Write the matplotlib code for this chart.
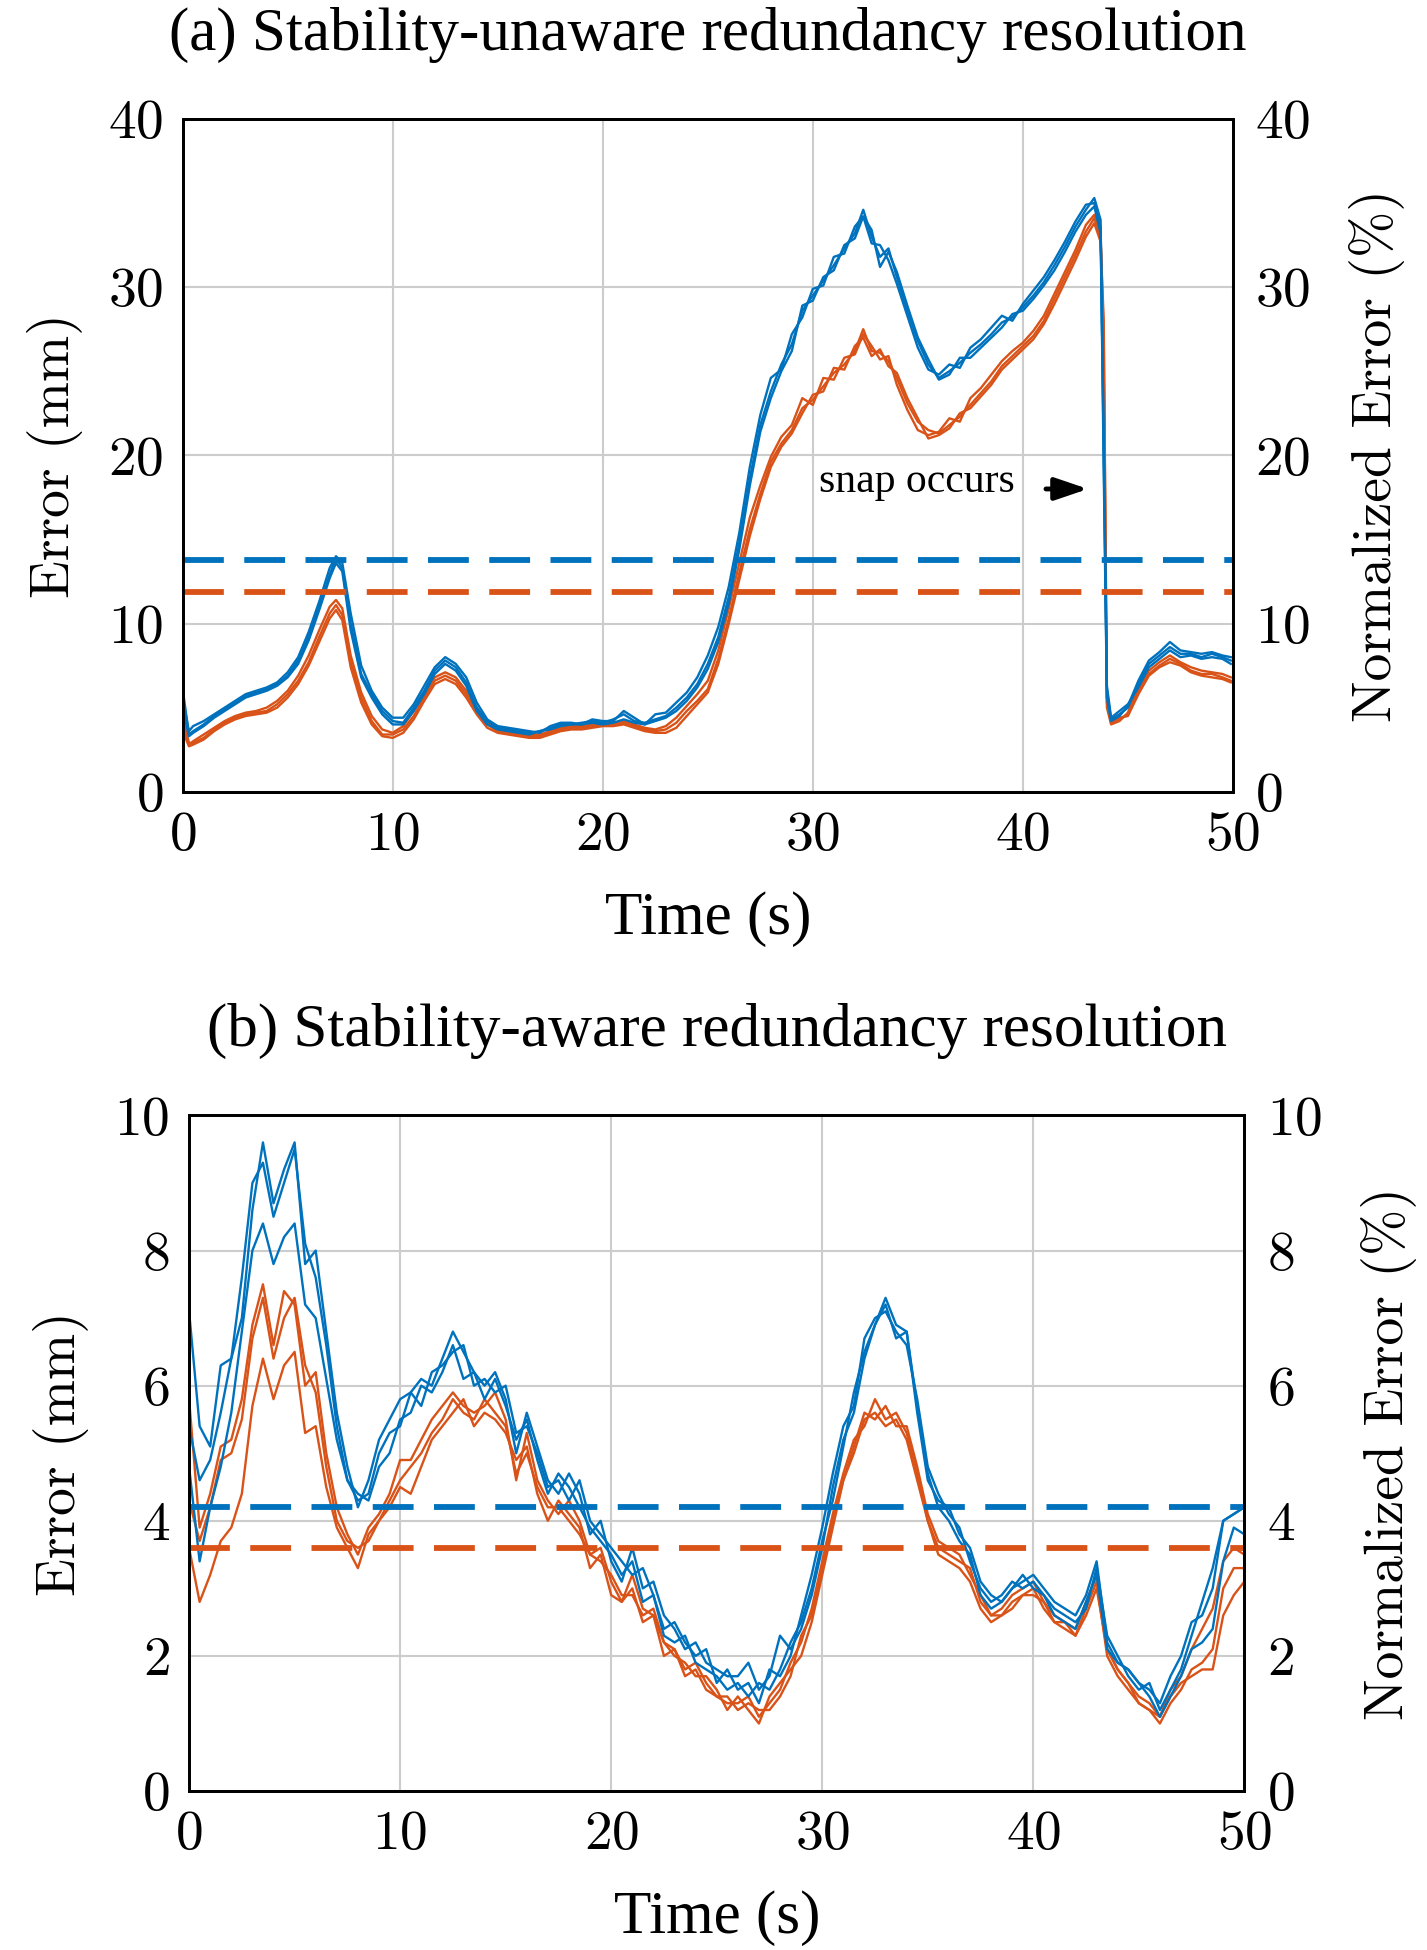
import numpy as np
import matplotlib.pyplot as plt

# Error traces for two redundancy resolution schemes

plt.rcParams['font.family'] = 'serif'
plt.rcParams['font.serif'] = ['cmr10', 'DejaVu Serif']
plt.rcParams['mathtext.fontset'] = 'cm'
plt.rcParams['axes.formatter.use_mathtext'] = True

BLUE = '#0072BD'
ORANGE = '#D95319'
TIMES = 'Liberation Serif'

# ---------------- (a) stability-unaware ----------------
top_t = [0, 0.3, 0.5, 1, 1.5, 2, 2.5, 3, 3.5, 4,
         4.5, 5, 5.5, 6, 6.5, 7, 7.3, 7.6, 8, 8.5,
         9, 9.5, 10, 10.5, 11, 11.5, 12, 12.5, 13, 13.5,
         14, 14.5, 15, 15.5, 16, 16.5, 17, 17.5, 18, 18.5,
         19, 19.5, 20, 20.5, 21, 21.5, 22, 22.5, 23, 23.5,
         24, 24.5, 25, 25.5, 26, 26.5, 27, 27.5, 28, 28.5,
         29, 29.5, 30, 30.5, 31, 31.5, 32, 32.4, 32.8, 33.2,
         33.6, 34, 34.5, 35, 35.5, 36, 36.5, 37, 37.5, 38,
         38.5, 39, 39.5, 40, 40.5, 41, 41.5, 42, 42.5, 43,
         43.4, 43.7, 43.85, 44.0, 44.2, 44.6, 45, 45.5, 46, 46.5,
         47, 47.5, 48, 48.5, 49, 49.5, 49.9]

top_blue1 = [6.1, 3.4, 3.6, 4.0, 4.5, 4.9, 5.3, 5.7, 5.9, 6.1,
             6.4, 6.9, 7.8, 9.2, 11.0, 12.9, 13.9, 13.3, 10.0, 7.0,
             5.8, 4.8, 4.2, 4.1, 5.0, 6.0, 7.2, 7.8, 7.4, 6.5,
             5.0, 4.2, 3.8, 3.7, 3.6, 3.5, 3.6, 3.8, 4.0, 4.0,
             4.1, 4.2, 4.1, 4.3, 4.6, 4.2, 4.1, 4.3, 4.5, 5.0,
             5.6, 6.4, 7.6, 9.2, 11.6, 14.8, 18.6, 21.8, 23.8, 25.4,
             26.6, 28.6, 29.5, 30.4, 31.3, 32.3, 33.2, 34.6, 33.0, 31.8,
             32.3, 30.6, 28.6, 26.8, 25.4, 24.6, 25.0, 25.5, 26.1, 26.6,
             27.2, 27.9, 28.2, 28.8, 29.5, 30.3, 31.3, 32.4, 33.6, 34.6,
             35.3, 34.0, 20.0, 6.0, 4.3, 4.6, 5.0, 6.4, 7.6, 8.1,
             8.6, 8.2, 8.2, 8.0, 8.2, 8.0, 7.8]
top_blue2 = [5.5, 3.6, 3.9, 4.2, 4.6, 5.0, 5.4, 5.8, 6.0, 6.2,
             6.5, 7.1, 8.0, 9.5, 11.3, 13.3, 14.0, 13.6, 10.6, 7.5,
             6.0, 5.0, 4.4, 4.4, 5.2, 6.3, 7.4, 8.0, 7.6, 6.8,
             5.3, 4.3, 3.9, 3.8, 3.7, 3.6, 3.5, 3.9, 4.1, 4.1,
             4.0, 4.3, 4.2, 4.2, 4.8, 4.4, 4.0, 4.6, 4.7, 5.3,
             5.9, 6.8, 8.1, 9.8, 12.2, 15.4, 19.3, 22.4, 24.6, 25.1,
             27.2, 28.2, 29.9, 30.1, 31.8, 32.0, 33.6, 34.2, 32.6, 32.5,
             31.6, 30.2, 28.3, 26.4, 25.1, 24.8, 25.4, 25.2, 26.4, 26.9,
             27.6, 28.3, 28.0, 29.0, 29.8, 30.6, 31.6, 32.7, 33.9, 34.9,
             35.0, 33.6, 19.0, 5.6, 4.2, 4.5, 5.1, 6.6, 7.8, 8.3,
             8.9, 8.4, 8.3, 8.2, 8.3, 8.1, 8.0]
top_blue3 = [5.0, 3.3, 3.5, 3.9, 4.4, 4.8, 5.2, 5.6, 5.8, 6.0,
             6.3, 6.8, 7.6, 9.0, 10.8, 12.7, 13.6, 13.1, 9.6, 6.8,
             5.6, 4.6, 4.0, 4.0, 4.8, 5.8, 7.0, 7.6, 7.2, 6.3,
             4.8, 4.0, 3.7, 3.6, 3.5, 3.4, 3.6, 3.7, 3.9, 4.0,
             4.0, 4.1, 4.0, 4.1, 4.3, 4.1, 4.0, 4.2, 4.4, 4.8,
             5.4, 6.2, 7.3, 8.9, 11.2, 14.4, 18.2, 21.4, 23.4, 25.0,
             26.2, 28.9, 29.2, 30.6, 31.0, 32.5, 32.9, 34.2, 33.4, 31.2,
             32.1, 30.9, 28.9, 27.0, 25.7, 24.5, 24.8, 25.8, 25.8, 26.4,
             27.0, 27.6, 28.4, 28.6, 29.3, 30.1, 31.0, 32.1, 33.3, 34.3,
             34.8, 33.2, 21.0, 6.3, 4.4, 4.8, 5.2, 6.2, 7.4, 7.9,
             8.4, 8.0, 8.1, 7.9, 8.0, 7.9, 7.6]

top_orange1 = [4.5, 2.9, 2.9, 3.2, 3.7, 4.1, 4.4, 4.6, 4.7, 4.8,
               5.2, 5.8, 6.6, 7.7, 9.2, 10.6, 11.1, 10.5, 7.7, 5.6,
               4.2, 3.4, 3.4, 3.7, 4.5, 5.6, 6.6, 6.9, 6.6, 5.8,
               4.8, 4.0, 3.6, 3.5, 3.4, 3.3, 3.3, 3.5, 3.7, 3.8,
               3.8, 3.9, 4.0, 4.0, 4.1, 3.9, 3.7, 3.6, 3.7, 4.1,
               4.8, 5.4, 6.1, 7.9, 10.3, 13.0, 15.6, 17.7, 19.6, 20.7,
               21.5, 22.8, 23.3, 24.1, 24.9, 25.4, 26.2, 27.5, 26.2, 26.1,
               25.6, 24.6, 23.1, 22.0, 21.5, 21.3, 21.8, 22.3, 23.0, 23.7,
               24.4, 25.3, 25.9, 26.5, 27.1, 28.0, 29.3, 30.6, 31.9, 33.3,
               34.1, 33.0, 27.0, 5.3, 4.1, 4.3, 4.6, 6.0, 7.0, 7.5,
               7.9, 7.6, 7.2, 7.0, 7.0, 6.8, 6.6]
top_orange2 = [4.0, 2.8, 3.0, 3.4, 3.8, 4.2, 4.5, 4.7, 4.8, 5.0,
               5.4, 6.0, 6.9, 8.1, 9.6, 11.0, 11.4, 10.9, 8.1, 5.9,
               4.5, 3.7, 3.5, 3.9, 4.8, 5.8, 6.8, 7.1, 6.8, 6.0,
               5.0, 4.1, 3.7, 3.6, 3.5, 3.4, 3.4, 3.6, 3.8, 3.9,
               3.9, 4.0, 4.1, 4.1, 4.2, 4.0, 3.8, 3.7, 3.9, 4.4,
               5.1, 5.8, 6.6, 8.4, 10.9, 13.6, 16.3, 18.2, 19.9, 21.1,
               21.8, 23.4, 23.0, 24.6, 24.5, 25.8, 26.0, 27.2, 26.5, 25.7,
               25.9, 24.2, 22.7, 21.5, 21.2, 21.4, 22.2, 22.0, 23.4, 24.0,
               24.8, 25.6, 26.2, 26.7, 27.4, 28.3, 29.6, 30.9, 32.2, 33.7,
               34.3, 33.4, 25.0, 5.0, 4.0, 4.2, 4.7, 6.2, 7.2, 7.7,
               8.1, 7.7, 7.4, 7.2, 7.1, 7.0, 6.8]
top_orange3 = [3.6, 2.7, 2.8, 3.1, 3.6, 4.0, 4.3, 4.5, 4.6, 4.7,
               5.0, 5.6, 6.4, 7.5, 8.9, 10.3, 10.8, 10.2, 7.4, 5.3,
               4.0, 3.3, 3.2, 3.5, 4.3, 5.4, 6.4, 6.7, 6.4, 5.6,
               4.6, 3.8, 3.5, 3.4, 3.3, 3.2, 3.2, 3.4, 3.6, 3.7,
               3.7, 3.8, 3.9, 3.9, 4.0, 3.8, 3.6, 3.5, 3.5, 3.8,
               4.5, 5.2, 5.9, 7.6, 10.0, 12.6, 15.2, 17.4, 19.3, 20.5,
               21.3, 22.5, 23.6, 23.8, 25.2, 25.1, 26.5, 27.0, 25.9, 26.3,
               25.3, 24.9, 23.4, 22.2, 21.0, 21.2, 21.6, 22.5, 22.8, 23.5,
               24.2, 25.1, 25.7, 26.3, 26.9, 27.8, 29.0, 30.3, 31.6, 33.0,
               33.8, 32.7, 28.0, 5.6, 4.2, 4.4, 4.5, 5.8, 6.9, 7.4,
               7.7, 7.5, 7.1, 6.9, 6.8, 6.7, 6.5]

top_thresh_blue = 13.8
top_thresh_orange = 11.9

# ---------------- (b) stability-aware ----------------
bottom_t = [0, 0.5, 1, 1.5, 2, 2.5, 3, 3.5, 4, 4.5,
            5, 5.5, 6, 6.5, 7, 7.5, 8, 8.5, 9, 9.5,
            10, 10.5, 11, 11.5, 12, 12.5, 13, 13.5, 14, 14.5,
            15, 15.5, 16, 16.5, 17, 17.5, 18, 18.5, 19, 19.5,
            20, 20.5, 21, 21.5, 22, 22.5, 23, 23.5, 24, 24.5,
            25, 25.5, 26, 26.5, 27, 27.5, 28, 28.5, 29, 29.5,
            30, 30.5, 31, 31.5, 32, 32.5, 33, 33.5, 34, 34.5,
            35, 35.5, 36, 36.5, 37, 37.5, 38, 38.5, 39, 39.5,
            40, 40.5, 41, 41.5, 42, 42.5, 43, 43.5, 44, 44.5,
            45, 45.5, 46, 46.5, 47, 47.5, 48, 48.5, 49, 49.5,
            50]

bot_blue1 = [7.1, 5.4, 5.1, 6.3, 6.4, 7.0, 8.6, 9.6, 8.7, 9.2,
             9.6, 7.8, 8.0, 6.8, 5.6, 4.8, 4.2, 4.6, 5.2, 5.5,
             5.8, 5.9, 6.1, 6.0, 6.4, 6.8, 6.5, 6.2, 6.0, 6.2,
             5.8, 5.0, 5.6, 5.1, 4.6, 4.4, 4.7, 4.4, 3.8, 4.0,
             3.4, 3.1, 3.6, 3.0, 3.1, 2.6, 2.4, 2.1, 2.2, 1.9,
             1.8, 1.7, 1.7, 1.9, 1.5, 1.7, 2.3, 2.1, 2.4, 2.9,
             3.6, 4.5, 5.2, 5.6, 6.4, 6.9, 7.3, 6.9, 6.8, 5.6,
             4.6, 4.3, 4.2, 3.8, 3.6, 3.1, 2.9, 2.8, 3.0, 3.1,
             3.2, 3.0, 2.8, 2.7, 2.6, 2.9, 3.4, 2.2, 1.9, 1.8,
             1.6, 1.5, 1.3, 1.7, 2.0, 2.5, 2.6, 3.0, 4.0, 4.1,
             4.2]
bot_blue2 = [5.4, 4.6, 4.9, 5.6, 6.4, 7.6, 9.0, 9.3, 8.5, 9.0,
             9.5, 8.1, 7.6, 6.6, 5.4, 4.6, 4.3, 4.4, 5.0, 5.3,
             5.4, 5.9, 5.7, 6.2, 6.3, 6.5, 6.6, 6.0, 6.1, 5.9,
             6.0, 5.3, 5.4, 5.0, 4.5, 4.6, 4.3, 4.6, 4.0, 3.8,
             3.6, 3.4, 3.2, 3.3, 2.9, 2.4, 2.5, 2.2, 2.0, 2.1,
             1.6, 1.8, 1.5, 1.6, 1.3, 1.8, 1.7, 2.0, 2.6, 3.2,
             3.9, 4.7, 5.4, 5.7, 6.7, 7.0, 7.1, 6.8, 6.6, 5.8,
             4.8, 4.4, 4.1, 3.9, 3.4, 3.0, 2.8, 2.9, 3.1, 3.0,
             3.1, 2.9, 2.7, 2.6, 2.5, 2.7, 3.3, 2.3, 2.0, 1.7,
             1.5, 1.6, 1.2, 1.5, 1.8, 2.3, 2.8, 3.3, 4.0, 4.1,
             4.2]
bot_blue3 = [4.8, 3.4, 4.2, 4.8, 5.6, 6.8, 8.0, 8.4, 7.8, 8.2,
             8.4, 7.2, 7.0, 6.1, 5.2, 4.6, 4.4, 4.3, 4.8, 5.0,
             5.5, 5.6, 6.0, 5.9, 6.2, 6.6, 6.1, 6.2, 5.8, 6.1,
             5.7, 5.2, 5.5, 4.9, 4.4, 4.7, 4.5, 4.2, 3.9, 3.7,
             3.5, 3.2, 3.4, 2.8, 2.9, 2.3, 2.2, 2.3, 1.9, 1.8,
             1.7, 1.5, 1.6, 1.4, 1.6, 1.5, 1.8, 2.2, 2.5, 3.0,
             3.7, 4.3, 5.1, 5.9, 6.5, 6.9, 7.2, 6.7, 6.8, 5.7,
             4.7, 4.2, 4.0, 3.7, 3.5, 2.9, 2.7, 2.8, 3.0, 3.2,
             3.0, 2.9, 2.6, 2.5, 2.4, 2.8, 3.2, 2.1, 1.9, 1.8,
             1.6, 1.4, 1.1, 1.4, 1.7, 2.1, 2.2, 2.4, 3.4, 3.9,
             3.8]

bot_orange1 = [5.8, 3.9, 4.4, 5.1, 5.2, 5.8, 6.9, 7.5, 6.6, 7.4,
               7.2, 6.0, 6.2, 5.0, 4.2, 3.8, 3.5, 3.9, 4.1, 4.4,
               4.9, 4.9, 5.2, 5.5, 5.7, 5.9, 5.7, 5.6, 5.7, 5.9,
               5.5, 4.6, 5.3, 4.6, 4.3, 4.1, 4.3, 4.0, 3.5, 3.6,
               3.1, 2.8, 3.2, 2.7, 2.6, 2.2, 2.1, 1.8, 1.9, 1.6,
               1.4, 1.3, 1.3, 1.4, 1.1, 1.3, 1.5, 1.9, 2.2, 2.7,
               3.4, 4.1, 4.7, 5.2, 5.4, 5.8, 5.5, 5.6, 5.3, 4.7,
               4.0, 3.6, 3.5, 3.4, 3.3, 2.8, 2.6, 2.7, 2.9, 3.0,
               3.1, 2.8, 2.6, 2.5, 2.4, 2.8, 3.2, 2.1, 1.8, 1.6,
               1.4, 1.3, 1.1, 1.5, 1.7, 2.1, 2.4, 2.7, 3.4, 3.6,
               3.5]
bot_orange2 = [4.3, 3.7, 4.2, 4.9, 5.0, 5.5, 6.7, 7.3, 6.4, 7.0,
               7.3, 6.3, 5.9, 4.8, 4.0, 3.7, 3.6, 3.7, 4.0, 4.3,
               4.6, 4.8, 5.0, 5.3, 5.5, 5.8, 5.6, 5.5, 5.8, 5.6,
               5.4, 4.7, 5.0, 4.5, 4.2, 4.2, 4.0, 3.8, 3.5, 3.4,
               3.2, 2.9, 2.9, 2.6, 2.7, 2.2, 2.0, 1.9, 1.7, 1.7,
               1.5, 1.2, 1.4, 1.2, 1.0, 1.4, 1.6, 1.8, 2.0, 2.5,
               3.2, 3.9, 4.6, 5.0, 5.5, 5.6, 5.4, 5.5, 5.2, 4.6,
               4.0, 3.5, 3.4, 3.3, 3.1, 2.7, 2.5, 2.6, 2.8, 2.9,
               3.0, 2.7, 2.5, 2.4, 2.3, 2.7, 3.1, 2.0, 1.7, 1.5,
               1.3, 1.2, 1.0, 1.3, 1.5, 1.8, 1.9, 2.1, 3.0, 3.3,
               3.3]
bot_orange3 = [3.6, 2.8, 3.2, 3.7, 3.9, 4.4, 5.7, 6.4, 5.8, 6.3,
               6.5, 5.3, 5.4, 4.5, 3.9, 3.6, 3.3, 3.8, 4.0, 4.2,
               4.5, 4.4, 4.8, 5.2, 5.4, 5.6, 5.8, 5.4, 5.6, 5.5,
               5.3, 4.9, 5.1, 4.4, 4.0, 4.3, 4.1, 3.9, 3.3, 3.5,
               2.9, 2.8, 3.0, 2.5, 2.6, 2.0, 2.1, 1.7, 1.8, 1.5,
               1.4, 1.4, 1.2, 1.3, 1.2, 1.2, 1.4, 1.7, 2.3, 2.6,
               3.3, 4.0, 4.6, 5.1, 5.6, 5.5, 5.7, 5.4, 5.4, 4.8,
               4.1, 3.7, 3.6, 3.5, 3.2, 2.9, 2.6, 2.6, 2.7, 2.9,
               2.9, 2.8, 2.5, 2.5, 2.3, 2.6, 3.0, 2.1, 1.8, 1.6,
               1.3, 1.2, 1.1, 1.4, 1.6, 1.7, 1.8, 1.8, 2.6, 2.9,
               3.1]

bot_thresh_blue = 4.2
bot_thresh_orange = 3.6

DASH = (0, (7, 3.5))


def style_axes(ax, ymax, ystep):
    ax.set_xlim(0, 50)
    ax.set_ylim(0, ymax)
    ax.set_xticks(np.arange(0, 51, 10))
    ax.set_yticks(np.arange(0, ymax + 0.1, ystep))
    ax.grid(True, color='#cccccc', lw=1.5)
    ax.set_axisbelow(True)
    ax.tick_params(length=0, labelsize=40, pad=14)
    for s in ax.spines.values():
        s.set_linewidth(2)
    ax.set_xlabel('Time (s)', fontsize=44, family=TIMES, labelpad=22)
    ax.set_ylabel('Error (mm)', fontsize=40, labelpad=18)
    twin = ax.twinx()
    twin.set_ylim(0, ymax)
    twin.set_yticks(np.arange(0, ymax + 0.1, ystep))
    twin.tick_params(length=0, labelsize=40, pad=16)
    for s in twin.spines.values():
        s.set_linewidth(2)
    twin.set_ylabel('Normalized Error (%)', fontsize=40, labelpad=28)
    return twin


fig = plt.figure(figsize=(14.27, 19.5), dpi=100)
ax1 = fig.add_axes([0.128, 0.594, 0.736, 0.345])
ax2 = fig.add_axes([0.1325, 0.0815, 0.7395, 0.3465])

# panel (a)
for ys in [top_orange1, top_orange2, top_orange3]:
    ax1.plot(top_t, ys, color=ORANGE, lw=1.7)
for ys in [top_blue1, top_blue2, top_blue3]:
    ax1.plot(top_t, ys, color=BLUE, lw=1.7)
ax1.axhline(top_thresh_blue, color=BLUE, lw=4.2, ls=DASH)
ax1.axhline(top_thresh_orange, color=ORANGE, lw=4.2, ls=DASH)
ax1.text(30.3, 18.4, 'snap occurs', fontsize=30, family=TIMES, va='center')
ax1.annotate('', xy=(43.1, 18.0), xytext=(41.1, 18.0),
             arrowprops=dict(arrowstyle='-|>,head_length=0.5,head_width=0.17',
                             color='black', lw=3.5, mutation_scale=40,
                             shrinkA=0, shrinkB=0))
ax1.set_title('(a) Stability-unaware redundancy resolution', fontsize=44,
              family=TIMES, pad=50)
style_axes(ax1, 40, 10)

# panel (b)
for ys in [bot_orange1, bot_orange2, bot_orange3]:
    ax2.plot(bottom_t, ys, color=ORANGE, lw=1.7)
for ys in [bot_blue1, bot_blue2, bot_blue3]:
    ax2.plot(bottom_t, ys, color=BLUE, lw=1.7)
ax2.axhline(bot_thresh_blue, color=BLUE, lw=4.2, ls=DASH)
ax2.axhline(bot_thresh_orange, color=ORANGE, lw=4.2, ls=DASH)
ax2.set_title('(b) Stability-aware redundancy resolution', fontsize=44,
              family=TIMES, pad=50)
style_axes(ax2, 10, 2)

fig.savefig('out.png', dpi=100)
